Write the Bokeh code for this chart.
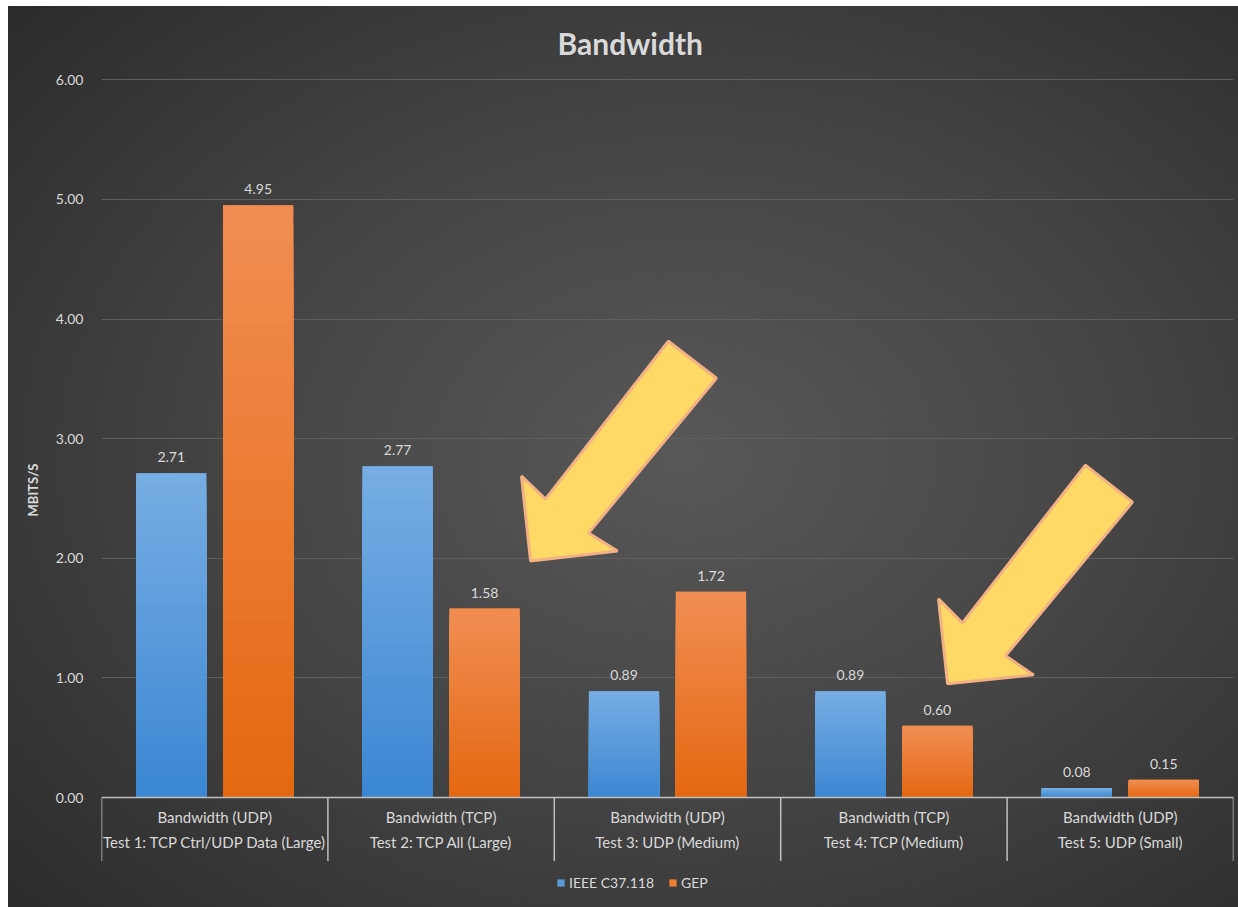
from bokeh.plotting import figure
from bokeh.models import (FactorRange, Range1d, FixedTicker, NumeralTickFormatter,
                          ColumnDataSource, Legend, LegendItem, Arrow)
from bokeh.transform import dodge
from bokeh.core.properties import value
from bokeh.embed import file_html
from bokeh.resources import INLINE

# ---------------- data ----------------
tests = ["Test 1: TCP Ctrl/UDP Data (Large)", "Test 2: TCP All (Large)",
         "Test 3: UDP (Medium)", "Test 4: TCP (Medium)", "Test 5: UDP (Small)"]
metrics = ["Bandwidth (UDP)", "Bandwidth (TCP)", "Bandwidth (UDP)",
           "Bandwidth (TCP)", "Bandwidth (UDP)"]
ieee = [2.71, 2.77, 0.89, 0.89, 0.08]
gep = [4.95, 1.58, 1.72, 0.60, 0.15]
series_names = ["IEEE C37.118", "GEP"]
y_ticks = [0, 1, 2, 3, 4, 5, 6]

# annotation arrows (synthetic x units, y in MBITS/S)
arrow1_x = [1.895, 1.855, 1.961, 2.504, 2.716, 2.151, 2.279]
arrow1_y = [1.978, 2.687, 2.495, 3.814, 3.505, 2.211, 2.061]
arrow2_x = [3.737, 3.697, 3.803, 4.346, 4.554, 3.993, 4.117]
arrow2_y = [0.951, 1.661, 1.460, 2.779, 2.470, 1.185, 1.026]

# ---------------- style ----------------
FONT = "Lato"
TXT = "#d9d9d9"
BLUE_TOP, BLUE_BOT, BLUE_MID = "#76ade3", "#3a86d2", "#5b9bd5"
ORNG_TOP, ORNG_BOT, ORNG_MID = "#f18d52", "#e4670f", "#ed7d31"
W = 0.31
OFF = 0.192
Y_LOW = -0.868   # room below the zero line for the category labels / legend
Y_HIGH = 6.01

factors = list(zip(tests, metrics))

p = figure(x_range=FactorRange(*factors, group_padding=0, factor_padding=0,
                               subgroup_padding=0, range_padding=0),
           y_range=Range1d(Y_LOW, Y_HIGH), width=1230, height=901,
           output_backend="svg", toolbar_location=None,
           min_border_left=93, min_border_right=5, min_border_top=72,
           min_border_bottom=6)
p.margin = (6, 0, 0, 8)
p.background_fill_alpha = 0
p.border_fill_alpha = 0
p.outline_line_color = None
p.styles = {"background": "radial-gradient(ellipse 75% 75% at 55% 50%, #585858 0%, #444444 50%, #2b2b2b 100%)"}


def hexrgb(h):
    return tuple(int(h[i:i + 2], 16) for i in (1, 3, 5))


def lerp(c1, c2, t):
    a, b = hexrgb(c1), hexrgb(c2)
    return "#%02x%02x%02x" % tuple(int(round(a[i] + (b[i] - a[i]) * t)) for i in range(3))


def gradient_bars(vals, off, ctop, cbot, cmid):
    base = p.vbar(x=dodge("x", off, range=p.x_range), top="v", width=W,
                  source=ColumnDataSource(dict(x=factors, v=vals)),
                  fill_color=cmid, line_color=None)
    N = 30
    xs, tops, cols = [], [], []
    for k in range(N):
        f = 1 - k / N
        for fac, v in zip(factors, vals):
            xs.append(fac)
            tops.append(v * f)
            cols.append(lerp(cbot, ctop, f))
    p.vbar(x=dodge("x", off, range=p.x_range), top="top", width=W,
           source=ColumnDataSource(dict(x=xs, top=tops, c=cols)),
           fill_color="c", line_color=None)
    p.text(x=dodge("x", off, range=p.x_range), y="v", text="t",
           source=ColumnDataSource(dict(x=factors, v=vals, t=["%.2f" % v for v in vals])),
           text_align="center", text_baseline="bottom", y_offset=-11,
           text_font=value(FONT), text_font_size="14px", text_color=TXT)
    return base


r1 = gradient_bars(ieee, -OFF, BLUE_TOP, BLUE_BOT, BLUE_MID)
r2 = gradient_bars(gep, OFF, ORNG_TOP, ORNG_BOT, ORNG_MID)

# arrows
for ax_, ay_ in ((arrow1_x, arrow1_y), (arrow2_x, arrow2_y)):
    p.patch(x=ax_, y=ay_, fill_color="#ffd966", line_color="#f4b183", line_width=3)

# grid / axes
p.xgrid.grid_line_color = None
p.ygrid.ticker = FixedTicker(ticks=y_ticks)
p.ygrid.grid_line_color = "#5f5f5f"
p.ygrid.grid_line_width = 1

ya = p.yaxis[0]
ya.ticker = FixedTicker(ticks=y_ticks)
ya.formatter = NumeralTickFormatter(format="0.00")
ya.axis_line_color = None
ya.major_tick_line_color = None
ya.minor_tick_line_color = None
ya.major_label_text_color = TXT
ya.major_label_text_font = FONT
ya.major_label_text_font_size = "14px"
ya.major_label_standoff = 12
ya.axis_label = "MBITS/S"
ya.axis_label_text_font = FONT
ya.axis_label_text_font_style = "bold"
ya.axis_label_text_font_size = "13px"
ya.axis_label_text_color = TXT
ya.axis_label_standoff = 12

xa = p.xaxis[0]
xa.fixed_location = 0
xa.axis_line_color = "#bfbfbf"
xa.axis_line_width = 1.5
xa.major_tick_line_color = None
xa.minor_tick_line_color = None
xa.major_label_text_color = TXT
xa.major_label_text_font = FONT
xa.major_label_text_font_size = "15px"
xa.major_label_standoff = 4
xa.group_text_color = TXT
xa.group_text_font = FONT
xa.group_text_font_size = "15px"
xa.group_text_font_style = "normal"
xa.separator_line_color = None

for k in range(len(tests) + 1):
    p.add_layout(Arrow(x_start=k, y_start=0, x_end=k, y_end=-0.53, end=None,
                       line_color="#bfbfbf", line_width=1.5))

# title
p.title.text = "Bandwidth"
p.title.text_font = FONT
p.title.text_font_style = "bold"
p.title.text_font_size = "30px"
p.title.text_color = TXT
p.title.align = "left"
p.title.vertical_align = "middle"
p.title.offset = 456
p.title.standoff = 33

legend = Legend(items=[LegendItem(label=series_names[0], renderers=[r1]),
                       LegendItem(label=series_names[1], renderers=[r2])],
                orientation="horizontal", location=(455, 10))
legend.background_fill_alpha = 0
legend.border_line_color = None
legend.label_text_color = TXT
legend.label_text_font = FONT
legend.label_text_font_size = "14px"
legend.glyph_width = 9
legend.glyph_height = 9
legend.label_standoff = 4
legend.spacing = 14
legend.padding = 0
legend.margin = 0
p.add_layout(legend, "center")

open("out.html", "w").write(file_html(p, INLINE))
